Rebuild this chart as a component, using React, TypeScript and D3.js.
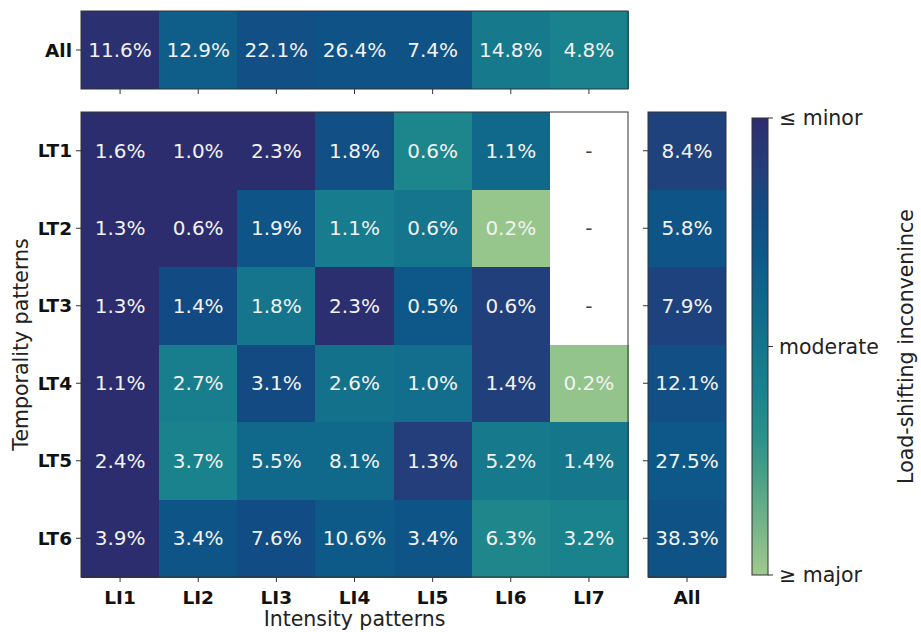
import React from "react";
import * as d3 from "d3";

// Pattern labels
const intensityPatterns = ["LI1", "LI2", "LI3", "LI4", "LI5", "LI6", "LI7"];
const temporalityPatterns = ["LT1", "LT2", "LT3", "LT4", "LT5", "LT6"];

// Share of load (%) per temporality (rows) x intensity (columns); null = no data
const shareLT1 = [1.6, 1.0, 2.3, 1.8, 0.6, 1.1, null];
const shareLT2 = [1.3, 0.6, 1.9, 1.1, 0.6, 0.2, null];
const shareLT3 = [1.3, 1.4, 1.8, 2.3, 0.5, 0.6, null];
const shareLT4 = [1.1, 2.7, 3.1, 2.6, 1.0, 1.4, 0.2];
const shareLT5 = [2.4, 3.7, 5.5, 8.1, 1.3, 5.2, 1.4];
const shareLT6 = [3.9, 3.4, 7.6, 10.6, 3.4, 6.3, 3.2];

// Inconvenience level per cell: 0 = minor, 1 = major
const levelLT1 = [0.0, 0.0, 0.0, 0.23, 0.62, 0.41, null];
const levelLT2 = [0.0, 0.0, 0.27, 0.55, 0.5, 0.98, null];
const levelLT3 = [0.0, 0.2, 0.5, 0.01, 0.3, 0.12, null];
const levelLT4 = [0.0, 0.57, 0.19, 0.47, 0.45, 0.12, 0.97];
const levelLT5 = [0.0, 0.6, 0.41, 0.41, 0.11, 0.53, 0.51];
const levelLT6 = [0.0, 0.27, 0.21, 0.31, 0.27, 0.63, 0.6];

// Totals over all temporality patterns (per intensity pattern)
const shareAllIntensity = [11.6, 12.9, 22.1, 26.4, 7.4, 14.8, 4.8];
const levelAllIntensity = [0.02, 0.34, 0.23, 0.26, 0.26, 0.53, 0.6];

// Totals over all intensity patterns (per temporality pattern)
const shareAllTemporality = [8.4, 5.8, 7.9, 12.1, 27.5, 38.3];
const levelAllTemporality = [0.13, 0.27, 0.14, 0.23, 0.3, 0.26];

// Colour bar tick labels
const colorbarTicks = [
  { value: 0, label: "≤ minor" },
  { value: 0.5, label: "moderate" },
  { value: 1, label: "≥ major" },
];

const shareRows = [shareLT1, shareLT2, shareLT3, shareLT4, shareLT5, shareLT6];
const levelRows = [levelLT1, levelLT2, levelLT3, levelLT4, levelLT5, levelLT6];

// Crest-like palette, dark navy (minor) to light green (major)
const paletteStops = [
  "#2c2d6e", "#253c79", "#124b83", "#0d5888", "#10678b", "#14758c",
  "#19828d", "#2c918a", "#50a387", "#78b688", "#9fca8e",
];
const color = d3
  .scaleLinear<string>()
  .domain(paletteStops.map((_, i) => i / (paletteStops.length - 1)))
  .range(paletteStops)
  .interpolate(d3.interpolateRgb);

const FONT = "DejaVu Sans, Verdana, sans-serif";
const SPINE = "#333";
const TICK = 5;

const fmt = (v: number) => `${v.toFixed(1)}%`;

export default function App() {
  const W = 921;
  const H = 632;

  const x = d3.scaleBand().domain(intensityPatterns).range([81, 628]);
  const yMain = d3.scaleBand().domain(temporalityPatterns).range([112, 577]);
  const yTop = d3.scaleBand().domain(["All"]).range([11, 89]);
  const xRight = d3.scaleBand().domain(["All"]).range([648, 726]);
  const cbarX0 = 752;
  const cbarX1 = 768;
  const cbarY = d3.scaleLinear().domain([0, 1]).range([118, 575]);

  const cellText = (cx: number, cy: number, txt: string, fill = "#f2f2f2") => (
    <text
      x={cx}
      y={cy}
      textAnchor="middle"
      dominantBaseline="central"
      fontFamily={FONT}
      fontSize={20}
      fill={fill}
    >
      {txt}
    </text>
  );

  const tickLabelStyle = {
    fontFamily: FONT,
    fontSize: 18.5,
    fontWeight: 700 as const,
    fill: "#111",
  };
  const labelSize = 20.5;

  const gradStops = d3.range(0, 1.0001, 0.05);

  return (
    <svg
      width={W}
      height={H}
      style={{ position: "absolute", left: 0, top: 0, background: "#fff" }}
    >
      <defs>
        <linearGradient id="cbar" x1="0" y1="0" x2="0" y2="1">
          {gradStops.map((t) => (
            <stop key={t} offset={t} stopColor={color(t)} />
          ))}
        </linearGradient>
      </defs>

      {/* Top strip: all temporality patterns per intensity pattern */}
      <g>
        {intensityPatterns.map((p, i) => (
          <rect
            key={p}
            x={x(p)!}
            y={yTop("All")!}
            width={x.bandwidth() + 0.5}
            height={yTop.bandwidth()}
            fill={color(levelAllIntensity[i])}
            shapeRendering="crispEdges"
          />
        ))}
        {intensityPatterns.map((p, i) => (
          <g key={p + "t"}>
            {cellText(
              x(p)! + x.bandwidth() / 2,
              yTop("All")! + yTop.bandwidth() / 2,
              fmt(shareAllIntensity[i])
            )}
          </g>
        ))}
        <rect
          x={81}
          y={yTop("All")!}
          width={628 - 81}
          height={yTop.bandwidth()}
          fill="none"
          stroke={SPINE}
          strokeWidth={1}
        />
        {intensityPatterns.map((p) => {
          const cx = x(p)! + x.bandwidth() / 2;
          return (
            <line key={p + "k"} x1={cx} x2={cx} y1={89} y2={89 + TICK} stroke={SPINE} />
          );
        })}
        <line
          x1={81 - TICK}
          x2={81}
          y1={yTop("All")! + yTop.bandwidth() / 2}
          y2={yTop("All")! + yTop.bandwidth() / 2}
          stroke={SPINE}
        />
        <text
          x={81 - TICK - 4}
          y={yTop("All")! + yTop.bandwidth() / 2}
          textAnchor="end"
          dominantBaseline="central"
          {...tickLabelStyle}
        >
          All
        </text>
      </g>

      {/* Main grid */}
      <g>
        {temporalityPatterns.map((row, r) =>
          intensityPatterns.map((col, c) => {
            const lvl = levelRows[r][c];
            return (
              <rect
                key={row + col}
                x={x(col)!}
                y={yMain(row)!}
                width={x.bandwidth() + 0.5}
                height={yMain.bandwidth() + 0.5}
                fill={lvl === null ? "#fff" : color(lvl)}
                shapeRendering="crispEdges"
              />
            );
          })
        )}
        {temporalityPatterns.map((row, r) =>
          intensityPatterns.map((col, c) => {
            const v = shareRows[r][c];
            const cx = x(col)! + x.bandwidth() / 2;
            const cy = yMain(row)! + yMain.bandwidth() / 2;
            return (
              <g key={row + col + "t"}>
                {v === null ? cellText(cx, cy, "-", "#444") : cellText(cx, cy, fmt(v))}
              </g>
            );
          })
        )}
        <rect
          x={81}
          y={112}
          width={628 - 81}
          height={577 - 112}
          fill="none"
          stroke={SPINE}
          strokeWidth={1}
        />
        {temporalityPatterns.map((row) => {
          const cy = yMain(row)! + yMain.bandwidth() / 2;
          return (
            <g key={row + "k"}>
              <line x1={81 - TICK} x2={81} y1={cy} y2={cy} stroke={SPINE} />
              <text
                x={81 - TICK - 4}
                y={cy}
                textAnchor="end"
                dominantBaseline="central"
                {...tickLabelStyle}
              >
                {row}
              </text>
            </g>
          );
        })}
        {intensityPatterns.map((col) => {
          const cx = x(col)! + x.bandwidth() / 2;
          return (
            <g key={col + "k"}>
              <line x1={cx} x2={cx} y1={577} y2={577 + TICK} stroke={SPINE} />
              <text
                x={cx}
                y={597}
                textAnchor="middle"
                dominantBaseline="central"
                {...tickLabelStyle}
              >
                {col}
              </text>
            </g>
          );
        })}
        <text
          x={(81 + 628) / 2}
          y={619}
          textAnchor="middle"
          dominantBaseline="central"
          fontFamily={FONT}
          fontSize={labelSize}
          fill="#222"
        >
          Intensity patterns
        </text>
        <text
          transform={`translate(21, ${(112 + 577) / 2}) rotate(-90)`}
          textAnchor="middle"
          dominantBaseline="central"
          fontFamily={FONT}
          fontSize={labelSize}
          fill="#222"
        >
          Temporality patterns
        </text>
      </g>

      {/* Right strip: all intensity patterns per temporality pattern */}
      <g>
        {temporalityPatterns.map((row, r) => (
          <rect
            key={row}
            x={xRight("All")!}
            y={yMain(row)!}
            width={xRight.bandwidth()}
            height={yMain.bandwidth() + 0.5}
            fill={color(levelAllTemporality[r])}
            shapeRendering="crispEdges"
          />
        ))}
        {temporalityPatterns.map((row, r) => (
          <g key={row + "t"}>
            {cellText(
              xRight("All")! + xRight.bandwidth() / 2,
              yMain(row)! + yMain.bandwidth() / 2,
              fmt(shareAllTemporality[r])
            )}
          </g>
        ))}
        <rect
          x={xRight("All")!}
          y={112}
          width={xRight.bandwidth()}
          height={577 - 112}
          fill="none"
          stroke={SPINE}
        />
        {temporalityPatterns.map((row) => {
          const cy = yMain(row)! + yMain.bandwidth() / 2;
          return (
            <line
              key={row + "k"}
              x1={xRight("All")! - TICK}
              x2={xRight("All")!}
              y1={cy}
              y2={cy}
              stroke={SPINE}
            />
          );
        })}
        <line
          x1={xRight("All")! + xRight.bandwidth() / 2}
          x2={xRight("All")! + xRight.bandwidth() / 2}
          y1={577}
          y2={577 + TICK}
          stroke={SPINE}
        />
        <text
          x={xRight("All")! + xRight.bandwidth() / 2}
          y={597}
          textAnchor="middle"
          dominantBaseline="central"
          {...tickLabelStyle}
        >
          All
        </text>
      </g>

      {/* Colour bar */}
      <g>
        <rect
          x={cbarX0}
          y={cbarY(0)}
          width={cbarX1 - cbarX0}
          height={cbarY(1) - cbarY(0)}
          fill="url(#cbar)"
          stroke={SPINE}
        />
        {colorbarTicks.map((t) => (
          <g key={t.label}>
            <line
              x1={cbarX1}
              x2={cbarX1 + TICK}
              y1={cbarY(t.value)}
              y2={cbarY(t.value)}
              stroke={SPINE}
            />
            <text
              x={cbarX1 + TICK + 6}
              y={cbarY(t.value)}
              dominantBaseline="central"
              fontFamily={FONT}
              fontSize={labelSize}
              fill="#222"
            >
              {t.label}
            </text>
          </g>
        ))}
        <text
          transform={`translate(906, ${(cbarY(0) + cbarY(1)) / 2}) rotate(-90)`}
          textAnchor="middle"
          dominantBaseline="central"
          fontFamily={FONT}
          fontSize={labelSize}
          fill="#222"
        >
          Load-shifting inconvenince
        </text>
      </g>
    </svg>
  );
}
